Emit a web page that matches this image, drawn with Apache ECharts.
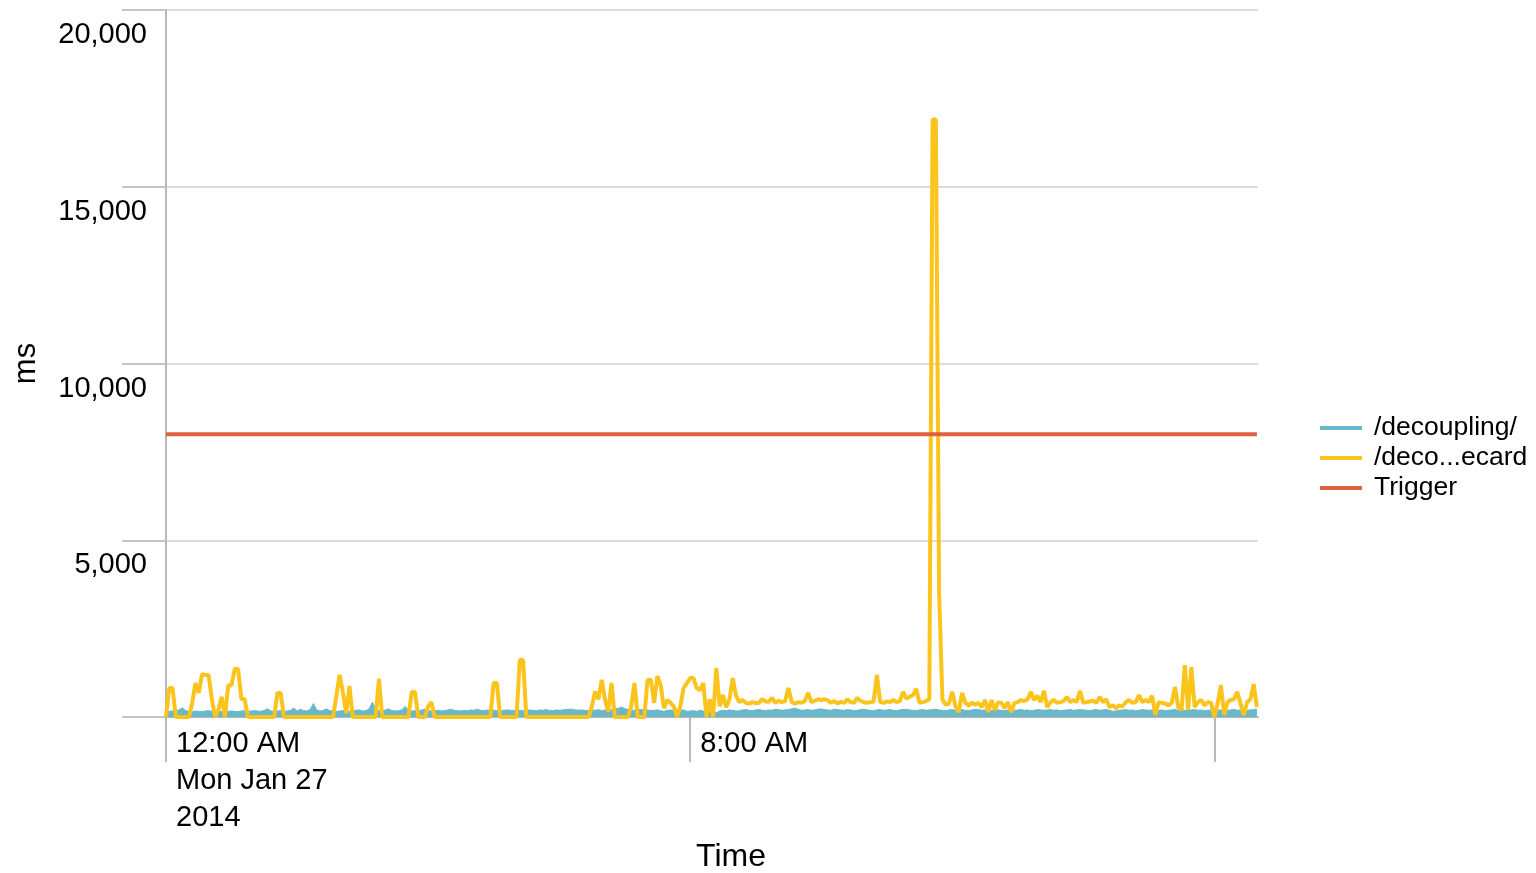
<!DOCTYPE html>
<html>
<head>
<meta charset="utf-8">
<title>ms over time</title>
<script src="https://cdn.jsdelivr.net/npm/echarts@6/dist/echarts.min.js"></script>
<style>
html,body{margin:0;padding:0;background:#fff;}
#chart{width:1536px;height:873px;}
</style>
</head>
<body>
<div id="chart"></div>
<script>
// minutes since 12:00 AM Mon Jan 27 2014, one sample every 3 minutes
var stepMinutes = 3;
var seriesNames = ["/decoupling/", "/deco...ecard", "Trigger"];
var seriesColors = ["#6ab7c9", "#fbc41c", "#dc6242"];

var decouplingMs = [
  150,160,170,180,200,260,180,160,150,170,
  160,150,170,180,160,150,170,160,150,160,
  170,160,150,170,180,160,170,180,170,160,
  190,230,170,160,170,180,160,170,190,250,
  170,220,180,170,210,380,200,170,190,230,
  180,170,160,170,180,170,160,170,190,200,
  170,180,230,420,240,180,170,200,230,180,
  170,180,200,300,190,170,180,170,200,220,
  180,170,180,190,170,180,200,220,190,180,
  170,190,180,200,190,220,190,180,200,180,
  190,180,170,190,200,190,180,200,190,180,
  190,200,190,180,200,190,210,190,180,200,
  190,200,210,220,220,200,190,200,190,180,
  200,190,210,180,200,190,210,230,240,280,
  240,210,200,190,200,210,190,200,180,190,
  200,180,160,190,200,180,170,190,200,160,
  170,180,160,190,170,120,180,150,120,170,
  190,180,200,190,170,180,200,210,190,180,
  200,210,190,180,200,190,220,210,190,200,
  210,230,250,220,190,200,210,190,200,220,
  230,210,200,190,220,210,200,190,210,200,
  180,190,210,220,200,190,180,200,210,190,
  200,210,190,180,200,210,220,200,190,180,
  200,210,190,200,210,220,200,190,180,200,
  210,190,200,210,190,180,200,220,210,190,
  200,180,190,210,200,190,180,200,210,190,
  200,210,190,200,180,190,210,200,190,200,
  210,190,200,180,190,200,210,190,200,210,
  200,190,180,200,210,190,200,210,190,160,
  170,190,200,210,190,200,180,190,210,200,
  190,200,210,190,200,180,190,200,210,190,
  200,190,180,200,210,190,200,180,190,200,
  150,190,200,160,190,200,210,190,200,180,
  190,200,210,220
];

var decoEcardMs = [
  0,820,820,0,0,0,0,0,400,960,
  680,1210,1190,1190,500,0,200,570,0,900,
  900,1360,1360,510,510,0,0,0,0,0,
  0,0,0,0,680,680,0,0,0,0,
  0,0,0,0,0,0,0,0,0,0,
  0,0,600,1190,700,100,880,0,0,0,
  0,0,0,0,0,1075,0,0,0,0,
  0,0,0,0,0,710,710,0,0,0,
  300,420,0,0,0,0,0,0,0,0,
  0,0,0,0,0,0,0,0,0,0,
  960,960,0,0,0,0,0,0,1610,1610,
  0,0,0,0,0,0,0,0,0,0,
  0,0,0,0,0,0,0,0,0,0,
  300,720,500,1050,500,150,960,0,0,0,
  0,0,300,960,0,0,0,1050,1050,400,
  1160,900,250,480,400,300,0,300,820,960,
  1100,1100,820,760,960,0,500,0,1390,300,
  620,280,500,1100,600,420,480,400,380,420,
  390,400,510,440,430,540,400,460,420,450,
  820,420,380,420,400,450,680,420,460,500,
  480,500,470,400,450,380,430,400,500,420,
  400,540,460,420,400,420,440,1190,430,400,
  440,420,480,420,450,710,520,570,620,790,
  400,420,450,500,16900,16900,3500,500,350,380,
  710,300,140,680,400,320,400,350,400,280,
  480,140,480,200,420,400,250,420,140,400,
  420,480,450,500,710,480,600,420,740,280,
  420,480,400,420,450,570,420,480,420,740,
  400,420,440,460,400,570,420,500,280,330,
  250,330,300,420,480,400,420,620,420,480,
  420,600,60,420,400,380,330,400,850,280,
  200,1470,200,1410,280,420,480,330,420,400,
  0,380,900,60,420,480,500,710,380,60,
  420,500,930,280
];

var triggerMs = 8000;

var xTickValues = [0, 480, 960];
var xTickLabels = ["12:00 AM\nMon Jan 27\n2014", "8:00 AM"];
var yTickLabels = ["", "5,000", "10,000", "15,000", "20,000"];

var fontFamily = "'Liberation Sans', Arial, sans-serif";

function pairs(values) {
  var out = [];
  for (var i = 0; i < values.length; i++) {
    out.push([i * stepMinutes, values[i]]);
  }
  return out;
}

var lastMinute = (decoEcardMs.length - 1) * stepMinutes;

var myChart = echarts.init(document.getElementById('chart'), null, {renderer: 'canvas'});

var option = {
  animation: false,
  backgroundColor: '#fff',
  textStyle: {fontFamily: fontFamily, color: '#000'},
  grid: {left: 166, right: 278, top: 10, bottom: 156, containLabel: false, outerBoundsMode: 'none'},
  legend: {
    orient: 'vertical',
    left: 1315,
    top: 408,
    icon: 'rect',
    itemWidth: 42,
    itemHeight: 4,
    itemGap: 0,
    textStyle: {fontSize: 26.5, lineHeight: 30, color: '#000', fontFamily: fontFamily, padding: [0, 0, 0, 7]},
    data: seriesNames
  },
  xAxis: {
    type: 'value',
    min: 0,
    max: 1000,
    interval: 480,
    name: 'Time',
    nameLocation: 'middle',
    nameGap: 123,
    nameTextStyle: {fontSize: 32, color: '#000', padding: [0, 0, 0, 38]},
    axisLine: {show: true, lineStyle: {color: '#b8b8b8', width: 2}},
    axisTick: {show: true, length: 45, customValues: xTickValues, lineStyle: {color: '#b8b8b8', width: 2}},
    splitLine: {show: false},
    axisLabel: {
      customValues: [xTickValues[0], xTickValues[1]],
      fontSize: 29,
      lineHeight: 37,
      color: '#000',
      align: 'left',
      padding: [0, 0, 0, 10],
      margin: 8,
      formatter: function (v) {
        var k = xTickValues.indexOf(v);
        return k >= 0 && k < xTickLabels.length ? xTickLabels[k] : '';
      }
    }
  },
  yAxis: {
    type: 'value',
    min: 0,
    max: 20000,
    interval: 5000,
    name: 'ms',
    nameLocation: 'middle',
    nameGap: 124,
    nameTextStyle: {fontSize: 31, color: '#000'},
    axisLine: {show: true, lineStyle: {color: '#b8b8b8', width: 2}},
    axisTick: {show: true, length: 44, lineStyle: {color: '#c4c4c4', width: 2}},
    splitLine: {show: true, lineStyle: {color: '#dcdcdc', width: 2}},
    axisLabel: {
      fontSize: 29,
      color: '#000',
      margin: 19,
      verticalAlign: 'top',
      lineHeight: 50,
      formatter: function (v) {
        return yTickLabels[Math.round(v / 5000)];
      }
    }
  },
  series: [
    {
      name: seriesNames[0],
      type: 'line',
      data: pairs(decouplingMs),
      showSymbol: false,
      color: seriesColors[0],
      lineStyle: {width: 1, color: seriesColors[0]},
      areaStyle: {color: seriesColors[0], opacity: 1},
      z: 2
    },
    {
      name: seriesNames[1],
      type: 'line',
      data: pairs(decoEcardMs),
      showSymbol: false,
      color: seriesColors[1],
      lineStyle: {width: 4, color: seriesColors[1]},
      z: 3
    },
    {
      name: seriesNames[2],
      type: 'line',
      data: [[0, triggerMs], [lastMinute, triggerMs]],
      showSymbol: false,
      color: seriesColors[2],
      lineStyle: {width: 4, color: seriesColors[2]},
      z: 4
    }
  ]
};

myChart.setOption(option);
window.onresize = function () {
  myChart.resize();
};
</script>
</body>
</html>
